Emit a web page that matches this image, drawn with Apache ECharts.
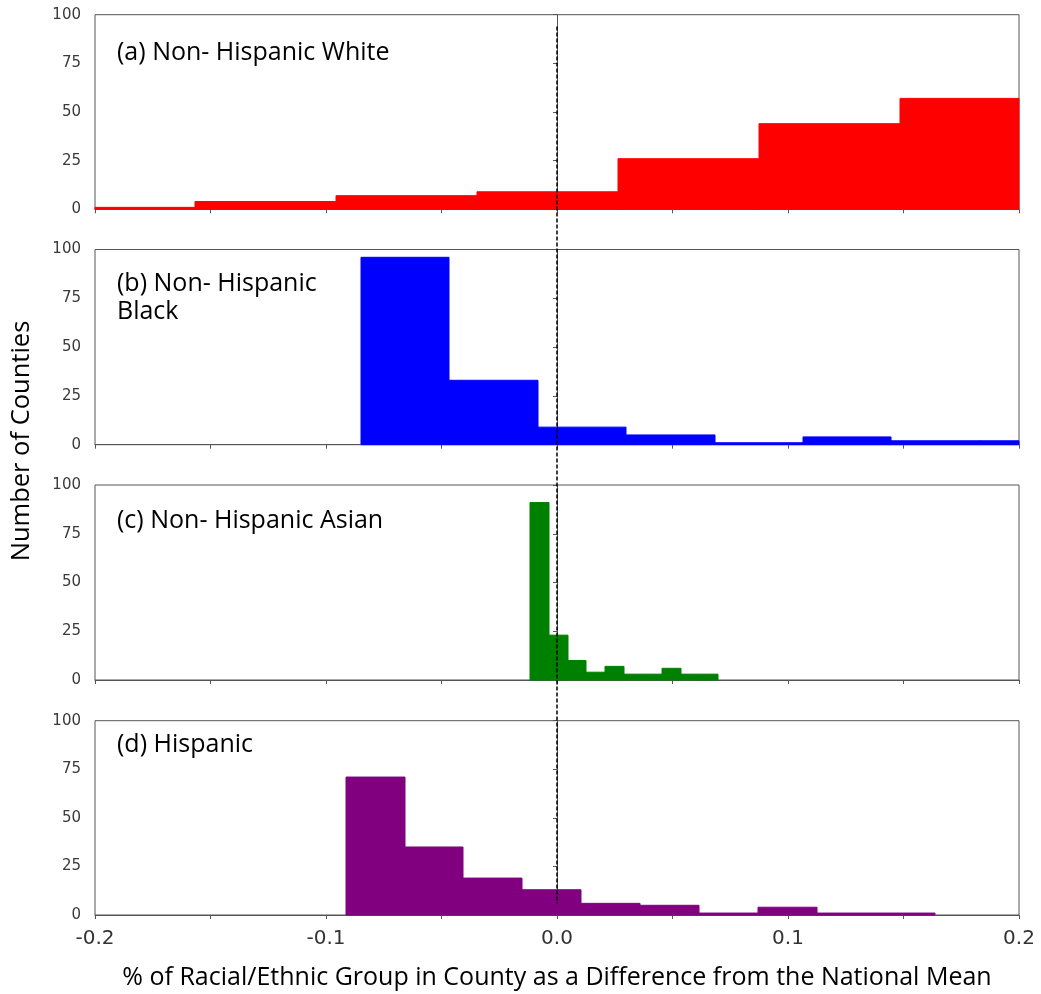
<!DOCTYPE html>
<html>
<head>
<meta charset="utf-8">
<script src="https://cdn.jsdelivr.net/npm/echarts@6/dist/echarts.min.js"></script>
<style>
  html, body { margin: 0; padding: 0; background: #fff; }
  #chart { width: 1041px; height: 994px; }
</style>
</head>
<body>
<div id="chart"></div>
<script>
// Histogram panels: first bin edge, bin width and the county count of every bin
const whiteStart = -0.2179, whiteWidth = 0.0611;
const whiteCounts = [1, 4, 7, 9, 26, 44, 57];
const blackStart = -0.0850, blackWidth = 0.0383;
const blackCounts = [96, 33, 9, 5, 1, 4, 2, 2];
const asianStart = -0.0117, asianWidth = 0.00815;
const asianCounts = [91, 23, 10, 4, 7, 3, 3, 6, 3, 3];
const hispStart = -0.0915, hispWidth = 0.0255;
const hispCounts = [71, 35, 19, 13, 6, 5, 1, 4, 1, 1];

const panelTitles = ['(a) Non- Hispanic White', '(b) Non- Hispanic\nBlack', '(c) Non- Hispanic Asian', '(d) Hispanic'];
const panelColors = ['#ff0000', '#0000ff', '#008000', '#800080'];
const xTickValues = [-0.2, -0.1, 0, 0.1, 0.2];
const xTickLabels = ['-0.2', '-0.1', '0.0', '0.1', '0.2'];
const yTickValues = [0, 25, 50, 75, 100];
const yTickLabels = ['0', '25', '50', '75', '100'];
// vertical reference line at x = 0: runs from this count in the top panel to this count in the bottom panel
const meanLineTop = 94, meanLineBottom = 6;

const xAxisName = '% of Racial/Ethnic Group in County as a Difference from the National Mean';
const yAxisName = 'Number of Counties';

function toBins(start, width, counts) {
  return counts.map((c, i) => [start + i * width, start + (i + 1) * width, c]);
}
const panelBins = [
  toBins(whiteStart, whiteWidth, whiteCounts),
  toBins(blackStart, blackWidth, blackCounts),
  toBins(asianStart, asianWidth, asianCounts),
  toBins(hispStart, hispWidth, hispCounts)
];

const gridTops = [14.7, 249.5, 485, 720.7];
const gridHeights = [194.6, 195.2, 195, 194.3];
const titleLeft = 117;
const titleCapCenters = [50.5, 281.5, 519, 742.5];
const frameColor = '#555';
const titleFont = '25px "Open Sans"';

const chart = echarts.init(document.getElementById('chart'), null, { renderer: 'canvas' });

const grids = gridTops.map((t, i) => ({
  left: 95, width: 924, top: t, height: gridHeights[i],
  show: true, borderColor: frameColor, borderWidth: 1, backgroundColor: 'transparent'
}));

const xAxes = gridTops.map((t, i) => ({
  type: 'value', gridIndex: i, min: -0.2, max: 0.2, interval: 0.05,
  axisLine: { show: true, lineStyle: { color: frameColor, width: 1 } },
  axisTick: { show: true, length: 4, lineStyle: { color: frameColor } },
  splitLine: { show: false },
  axisLabel: {
    show: i === 3, margin: 14, color: '#333', fontSize: 20, fontFamily: 'DejaVu Sans',
    formatter: v => {
      const k = xTickValues.findIndex(x => Math.abs(x - v) < 1e-9);
      return k >= 0 ? xTickLabels[k] : '';
    }
  },
  name: i === 3 ? xAxisName : '',
  nameLocation: 'middle', nameGap: 50,
  nameTextStyle: { color: '#000', fontSize: 25, fontFamily: 'Open Sans' }
}));

const yAxes = gridTops.map((t, i) => ({
  type: 'value', gridIndex: i, min: 0, max: 100, interval: 25,
  axisLine: { show: true, lineStyle: { color: frameColor, width: 1 } },
  axisTick: { show: true, length: 4, lineStyle: { color: frameColor } },
  splitLine: { show: false },
  axisLabel: {
    margin: 14, color: '#3a3a3a', fontSize: 15, fontFamily: 'DejaVu Sans',
    formatter: v => {
      const k = yTickValues.indexOf(v);
      return k >= 0 ? yTickLabels[k] : '';
    }
  }
}));

const series = panelBins.map((bins, i) => ({
  type: 'custom', xAxisIndex: i, yAxisIndex: i,
  data: bins,
  encode: { x: [0, 1], y: 2 },
  renderItem: (params, api) => {
    const p0 = api.coord([api.value(0), api.value(2)]);
    const p1 = api.coord([api.value(1), 0]);
    // snap the bin edges to whole pixels so neighbouring bars meet without a seam
    const xl = Math.round(p0[0]), xr = Math.round(p1[0]);
    const cs = params.coordSys;
    const shape = echarts.graphic.clipRectByRect(
      { x: xl, y: p0[1], width: xr - xl, height: p1[1] - p0[1] },
      { x: cs.x, y: cs.y, width: cs.width, height: cs.height }
    );
    if (!shape) return;
    return {
      type: 'rect', shape: shape,
      style: { fill: panelColors[i], stroke: panelColors[i], lineWidth: 1 }
    };
  }
}));

const textGraphics = panelTitles.map((txt, i) => ({
  type: 'text', left: titleLeft, top: titleCapCenters[i] - 12.2,
  style: { text: txt, font: titleFont, fill: '#000', lineHeight: 28.5 }
})).concat([{
  type: 'text', x: 22, y: 441, rotation: Math.PI / 2,
  style: { text: yAxisName, font: '25.5px "Open Sans"', fill: '#000', align: 'center', verticalAlign: 'middle' }
}]);

chart.setOption({
  animation: false,
  backgroundColor: '#fff',
  grid: grids,
  xAxis: xAxes,
  yAxis: yAxes,
  series: series,
  graphic: textGraphics
});

// dashed reference line at zero difference, spanning all four panels
const pTop = chart.convertToPixel({ gridIndex: 0 }, [0, meanLineTop]);
const pBot = chart.convertToPixel({ gridIndex: 3 }, [0, meanLineBottom]);
chart.setOption({
  graphic: textGraphics.concat([{
    type: 'line', z: 100,
    shape: { x1: pTop[0], y1: pTop[1], x2: pBot[0], y2: pBot[1] },
    style: { stroke: '#000', lineWidth: 1.5, lineDash: [4, 2] }
  }])
});
</script>
</body>
</html>
